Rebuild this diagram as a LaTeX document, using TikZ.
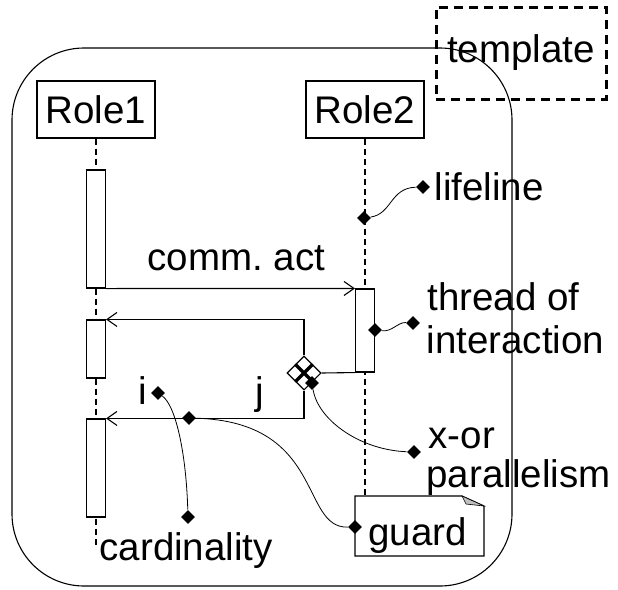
\documentclass[tikz,border=0pt]{standalone}
\usepackage{fontspec}
\setmainfont{Liberation Sans}
\usetikzlibrary{arrows.meta,shapes.geometric}

\tikzset{
	role/.style={draw,fill=white,minimum width=118,minimum height=57,inner sep=0},
	actbar/.style={draw,fill=white,minimum width=19,inner sep=0},
	lifeln/.style={dash pattern=on 6pt off 4pt},
	msg/.style={-{Straight Barb[length=10pt,width=14pt]}},
	pin/.style={diamond,fill=black,inner sep=0,minimum size=14},
	lbl/.style={anchor=base west,inner sep=0},
}

\begin{document}
\begin{tikzpicture}[x=1pt,y=-1pt,line width=1.1pt,font=\fontsize{38.5}{43}\selectfont]
	\useasboundingbox (0,0) rectangle (618,589);
	% template frame
	\draw[rounded corners=72] (12,48) rectangle (512,586);
	\node[draw,dash pattern=on 9pt off 6pt,line width=3pt,minimum width=170,minimum height=92,inner sep=0] (tmpl) at (521,53) {template};
	% roles and their lifelines
	\node[role] (role1) at (96,109.5) {Role1};
	\node[role] (role2) at (365,109.5) {Role2};
	\coordinate (end1) at (96,547);
	\coordinate (end2) at (365,496);
	\draw[lifeln] (role1) -- (end1);
	\draw[lifeln] (role2) -- (end2);
	% activations
	\node[actbar,minimum height=118] (bar1) at (96,229) {};
	\node[actbar,minimum height=58] (bar2) at (96,349) {};
	\node[actbar,minimum height=98] (bar3) at (96,468) {};
	\node[actbar,minimum height=83] (bar4) at (365,330.5) {};
	% messages
	\draw[msg] (bar1.south east) -- (bar4.north west);
	\node[lbl] (act) at (147,270) {comm.\ act};
	\node[diamond,draw,fill=white,minimum size=34,inner sep=0] (xor) at (304,373) {};
	\draw[line width=3.5pt] (xor.north west) -- (xor.south east) (xor.north east) -- (xor.south west);
	\draw (bar4.south west) -- (xor.east);
	\draw[msg] (xor.north) |- (bar2.north east);
	\draw[msg] (xor.south) |- (bar3.north east);
	\node[lbl] (i) at (138,404) {i};
	\node[lbl] (j) at (255,404) {j};
	% guard note
	\draw[fill=white] (355,496) -- (462,496) -- (484,506) -- (484,556) -- (355,556) -- cycle;
	\draw[fill=gray!50,line width=0.6pt] (462,496) -- (484,506) -- (466,504) -- cycle;
	\node[lbl] (guard) at (368,545) {guard};
	% annotations
	\node[pin] (p1a) at (364,218) {};
	\node[pin] (p1b) at (423,187) {};
	\node[lbl] (lifeline) at (434,200) {lifeline};
	\draw[line width=0.8pt] (p1a) .. controls (392,214) and (390,188) .. (p1b);
	\node[pin] (p2a) at (375,330) {};
	\node[pin] (p2b) at (413,323) {};
	\node[lbl] (thread1) at (427,310) {thread of};
	\node[lbl] (thread2) at (426,353) {interaction};
	\draw[line width=0.8pt] (p2a) .. controls (392,332) and (398,322) .. (p2b);
	\node[pin] (p3a) at (312,383) {};
	\node[pin] (p3b) at (414,452) {};
	\node[lbl] (xor1) at (428,448) {x-or};
	\node[lbl] (xor2) at (426,487) {parallelism};
	\draw[line width=0.8pt] (p3a) .. controls (318,420) and (360,450) .. (p3b);
	\node[pin] (p4a) at (158,393) {};
	\node[pin] (p4b) at (188,517) {};
	\node[lbl] (card) at (99,560) {cardinality};
	\draw[line width=0.8pt] (p4a) .. controls (175,405) and (186,450) .. (p4b);
	\node[pin] (p5a) at (189,418) {};
	\node[pin] (p5b) at (355,527) {};
	\draw[line width=0.8pt] (p5a) .. controls (325,422) and (300,528) .. (p5b);
\end{tikzpicture}
\end{document}
